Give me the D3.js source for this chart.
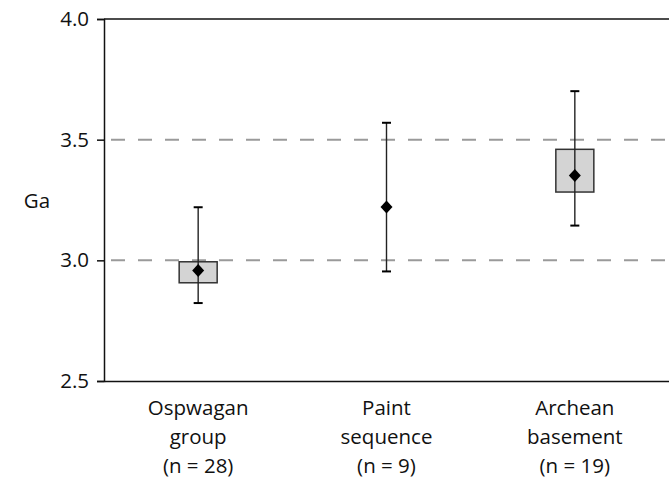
<!DOCTYPE html>
<html>
<head>
<meta charset="utf-8">
<script src="https://cdn.jsdelivr.net/npm/d3@7"></script>
<style>
  body { margin: 0; background: #fff; }
  text { font-family: "Open Sans", Lato, sans-serif; fill: #111; }
</style>
</head>
<body>
<div id="chart"></div>
<script>
// category labels (each line of the tick label)
var categories = ["Ospwagan group", "Paint sequence", "Archean basement"];
var labelLines = [["Ospwagan", "group", "(n = 28)"], ["Paint", "sequence", "(n = 9)"], ["Archean", "basement", "(n = 19)"]];
// values in Ga
var means = [2.958, 3.221, 3.352];
var whiskerLow = [2.823, 2.954, 3.144];
var whiskerHigh = [3.220, 3.570, 3.701];
var boxLow = [2.907, null, 3.283];
var boxHigh = [2.994, null, 3.460];
var yTicks = [2.5, 3.0, 3.5, 4.0];
var gridValues = [3.0, 3.5];

var W = 669, H = 478;
var margin = { top: 19, right: 0, bottom: 97, left: 104 },
  width = W - margin.left - margin.right,
  height = H - margin.top - margin.bottom;

var fontSize = "20.5px";

var svg = d3.select("#chart").append("svg")
  .attr("width", W)
  .attr("height", H)
  .append("g")
    .attr("transform", "translate(" + margin.left + "," + margin.top + ")");

var x = d3.scaleBand()
  .domain(categories)
  .range([0, width]);

var y = d3.scaleLinear()
  .domain([2.5, 4.0])
  .range([height, 0]);

// dashed grid lines
svg.selectAll(".grid")
  .data(gridValues)
  .enter().append("line")
    .attr("class", "grid")
    .attr("x1", 0)
    .attr("x2", width)
    .attr("y1", function(d) { return y(d); })
    .attr("y2", function(d) { return y(d); })
    .style("stroke", "#9a9a9a")
    .style("stroke-width", 2)
    .style("stroke-dasharray", "14,13")
    .style("stroke-dashoffset", -7);

// top border
svg.append("line")
  .attr("x1", 0).attr("x2", width)
  .attr("y1", 0).attr("y2", 0)
  .style("stroke", "#111")
  .style("stroke-width", 1.5);

// y axis
var yAxis = svg.append("g")
  .attr("class", "y axis")
  .call(d3.axisLeft(y).tickValues(yTicks).tickFormat(d3.format(".1f")).tickSize(7).tickPadding(8));
yAxis.select(".domain").style("stroke", "#111").style("stroke-width", 1.5);
yAxis.selectAll(".tick line").style("stroke", "#111").style("stroke-width", 1.5);
yAxis.selectAll("text").style("font-size", fontSize).style("font-family", "'Open Sans', sans-serif").style("fill", "#111");

// x axis line (no ticks)
var xAxis = svg.append("g")
  .attr("class", "x axis")
  .attr("transform", "translate(0," + height + ")")
  .call(d3.axisBottom(x).tickSize(0).tickFormat(""));
xAxis.select(".domain").style("stroke", "#111").style("stroke-width", 1.5);

// multi-line category labels
categories.forEach(function(c, i) {
  var t = svg.append("text")
    .attr("x", x(c) + x.bandwidth() / 2)
    .attr("y", height + 34)
    .style("text-anchor", "middle")
    .style("font-size", fontSize);
  labelLines[i].forEach(function(line, j) {
    t.append("tspan")
      .attr("x", x(c) + x.bandwidth() / 2)
      .attr("dy", j === 0 ? 0 : 29)
      .text(line);
  });
});

// y label
svg.append("text")
  .attr("x", -margin.left + 37)
  .attr("y", y(3.25) + 8)
  .style("text-anchor", "middle")
  .style("font-size", fontSize)
  .text("Ga");

var cx = function(i) { return x(categories[i]) + x.bandwidth() / 2; };
var boxW = 38, capW = 9;

// boxes
categories.forEach(function(c, i) {
  if (boxLow[i] === null) return;
  svg.append("rect")
    .attr("x", cx(i) - boxW / 2)
    .attr("y", y(boxHigh[i]))
    .attr("width", boxW)
    .attr("height", y(boxLow[i]) - y(boxHigh[i]))
    .style("fill", "#d4d4d4")
    .style("stroke", "#333")
    .style("stroke-width", 1.5);
});

// whiskers
categories.forEach(function(c, i) {
  svg.append("line")
    .attr("x1", cx(i)).attr("x2", cx(i))
    .attr("y1", y(whiskerLow[i])).attr("y2", y(whiskerHigh[i]))
    .style("stroke", "#222")
    .style("stroke-width", 1.4);
  [whiskerLow[i], whiskerHigh[i]].forEach(function(v) {
    svg.append("line")
      .attr("x1", cx(i) - capW / 2).attr("x2", cx(i) + capW / 2)
      .attr("y1", y(v)).attr("y2", y(v))
      .style("stroke", "#000")
      .style("stroke-width", 2);
  });
});

// mean diamonds
svg.selectAll(".mean")
  .data(means)
  .enter().append("path")
    .attr("class", "mean")
    .attr("transform", function(d, i) { return "translate(" + cx(i) + "," + y(d) + ")"; })
    .attr("d", "M0,-6.5L6,0L0,6.5L-6,0Z")
    .style("fill", "#000");
</script>
</body>
</html>
